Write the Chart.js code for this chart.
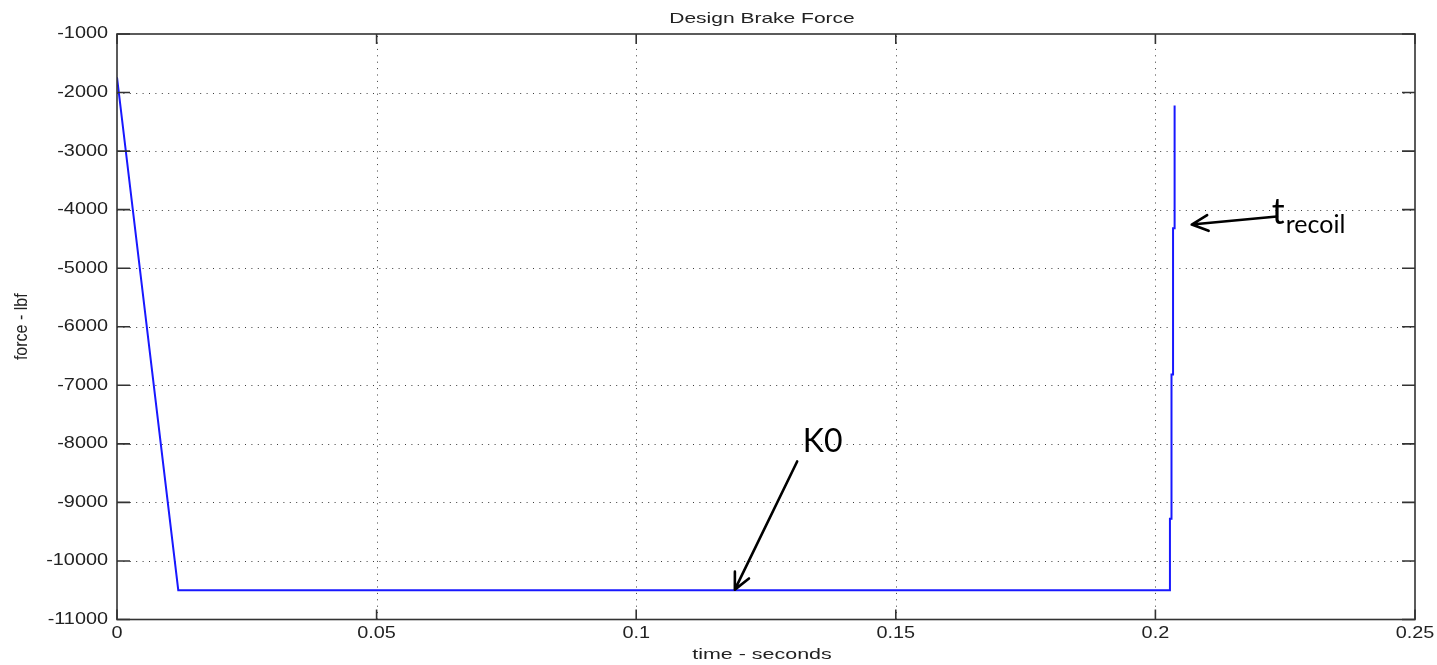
<!DOCTYPE html>
<html>
<head>
<meta charset="utf-8">
<title>Design Brake Force</title>
<script src="https://cdn.jsdelivr.net/npm/chart.js@4.4.0/dist/chart.umd.min.js"></script>
<style>
  html, body { margin: 0; padding: 0; background: #ffffff; }
  #wrap { width: 1437px; height: 665px; position: relative; }
</style>
</head>
<body>
<div id="wrap"><canvas id="brakeChart"></canvas></div>
<script>
// Brake force history (time in seconds, force in lbf)
const timeSeconds = [0, 0.0118, 0.2028, 0.2028, 0.2031, 0.2031, 0.2034, 0.2034, 0.2037, 0.2037];
const forceLbf    = [-1740, -10500, -10500, -9280, -9280, -6815, -6815, -4317, -4317, -2221];

// Axis tick labels (x left to right, y bottom to top)
const xTickLabels = ['0', '0.05', '0.1', '0.15', '0.2', '0.25'];
const yTickLabels = ['-11000', '-10000', '-9000', '-8000', '-7000', '-6000',
                     '-5000', '-4000', '-3000', '-2000', '-1000'];

const chartTitle = 'Design Brake Force';
const xAxisTitle = 'time - seconds';
const yAxisTitle = 'force - lbf';

// Callout arrows, in data units [time, force]
const calloutK0     = { text: 'K0', tail: [0.1310, -8301], tip: [0.1190, -10490], textAt: [0.1321, -8144] };
const calloutRecoil = { text: 't', sub: 'recoil', tail: [0.2234, -4117], tip: [0.2070, -4254],
                        textAt: [0.2224, -4237], subAt: [0.2251, -4407] };

const INK = '#222222';
const FRAME = '#333333';

// Text drawn with a horizontal stretch, like the bitmap fonts of the original plot
function stretchedText(ctx, text, x, y, opts) {
  ctx.save();
  ctx.font = opts.font;
  ctx.fillStyle = opts.color || INK;
  ctx.textAlign = opts.align || 'left';
  ctx.textBaseline = opts.baseline || 'alphabetic';
  ctx.translate(x, y);
  if (opts.rotate) ctx.rotate(opts.rotate);
  ctx.scale(opts.sx || 1, opts.sy || 1);
  ctx.fillText(text, 0, 0);
  ctx.restore();
}

function arrow(ctx, x1, y1, x2, y2) {
  const ang = Math.atan2(y2 - y1, x2 - x1);
  const head = 18, spread = 0.45;
  ctx.save();
  ctx.strokeStyle = '#000000';
  ctx.lineWidth = 2.6;
  ctx.lineCap = 'round';
  ctx.lineJoin = 'round';
  ctx.beginPath();
  ctx.moveTo(x1, y1);
  ctx.lineTo(x2, y2);
  ctx.moveTo(x2 - head * Math.cos(ang - spread), y2 - head * Math.sin(ang - spread));
  ctx.lineTo(x2, y2);
  ctx.lineTo(x2 - head * Math.cos(ang + spread), y2 - head * Math.sin(ang + spread));
  ctx.stroke();
  ctx.restore();
}

// Dotted grid, drawn beneath the data line
const matlabGrid = {
  id: 'matlabGrid',
  beforeDatasetsDraw(chart) {
    const { ctx, chartArea: a, scales: { x, y } } = chart;
    ctx.save();
    ctx.strokeStyle = '#3c3c3c';
    ctx.lineWidth = 1;
    ctx.setLineDash([1, 5.4]);
    x.ticks.forEach(t => {
      const px = Math.round(x.getPixelForValue(t.value)) + 0.5;
      if (px <= a.left + 2 || px >= a.right - 2) return;
      ctx.beginPath(); ctx.moveTo(px, a.bottom); ctx.lineTo(px, a.top); ctx.stroke();
    });
    y.ticks.forEach(t => {
      const py = Math.round(y.getPixelForValue(t.value)) + 0.5;
      if (py <= a.top + 2 || py >= a.bottom - 2) return;
      ctx.beginPath(); ctx.moveTo(a.left, py); ctx.lineTo(a.right, py); ctx.stroke();
    });
    ctx.restore();
  },
  afterDatasetsDraw(chart) {
    const { ctx, chartArea: a, scales: { x, y } } = chart;
    ctx.save();
    ctx.strokeStyle = FRAME;
    ctx.lineWidth = 1.6;
    ctx.strokeRect(a.left, a.top, a.right - a.left, a.bottom - a.top);
    // inward tick marks on all four sides
    ctx.beginPath();
    y.ticks.forEach(t => {
      const py = y.getPixelForValue(t.value);
      ctx.moveTo(a.left, py); ctx.lineTo(a.left + 13, py);
      ctx.moveTo(a.right, py); ctx.lineTo(a.right - 13, py);
    });
    x.ticks.forEach(t => {
      const px = x.getPixelForValue(t.value);
      ctx.moveTo(px, a.bottom); ctx.lineTo(px, a.bottom - 10);
      ctx.moveTo(px, a.top); ctx.lineTo(px, a.top + 10);
    });
    ctx.stroke();
    ctx.restore();
  },
  afterDraw(chart) {
    const { ctx, chartArea: a, scales: { x, y } } = chart;
    const tickFont = '16px "Liberation Sans", Arial, sans-serif';
    y.ticks.forEach((t, i) => {
      stretchedText(ctx, yTickLabels[i], a.left - 9, y.getPixelForValue(t.value),
        { font: tickFont, align: 'right', baseline: 'middle', sx: 1.24 });
    });
    x.ticks.forEach((t, i) => {
      stretchedText(ctx, xTickLabels[i], x.getPixelForValue(t.value), a.bottom + 14.5,
        { font: tickFont, align: 'center', baseline: 'middle', sx: 1.24 });
    });
    const cx = (a.left + a.right) / 2 - 4;
    stretchedText(ctx, chartTitle, cx, 23,
      { font: '15px "Liberation Sans", Arial, sans-serif', align: 'center', sx: 1.4 });
    stretchedText(ctx, xAxisTitle, cx, 659,
      { font: '15px "Liberation Sans", Arial, sans-serif', align: 'center', sx: 1.43 });
    stretchedText(ctx, yAxisTitle, 26.5, (a.top + a.bottom) / 2,
      { font: '16px "Liberation Sans", Arial, sans-serif', align: 'center', rotate: -Math.PI / 2, sy: 1.2 });

    // callouts
    const P = p => [x.getPixelForValue(p[0]), y.getPixelForValue(p[1])];
    let t1 = P(calloutK0.tail), t2 = P(calloutK0.tip);
    arrow(ctx, t1[0], t1[1], t2[0], t2[1]);
    let tp = P(calloutK0.textAt);
    stretchedText(ctx, calloutK0.text, tp[0], tp[1],
      { font: '32px Lato, "Open Sans", sans-serif', color: '#000000' });

    t1 = P(calloutRecoil.tail); t2 = P(calloutRecoil.tip);
    arrow(ctx, t1[0], t1[1], t2[0], t2[1]);
    tp = P(calloutRecoil.textAt);
    stretchedText(ctx, calloutRecoil.text, tp[0], tp[1],
      { font: '36px Lato, "Open Sans", sans-serif', color: '#000000' });
    tp = P(calloutRecoil.subAt);
    stretchedText(ctx, calloutRecoil.sub, tp[0], tp[1],
      { font: '25px Lato, "Open Sans", sans-serif', color: '#000000' });
  }
};

new Chart(document.getElementById('brakeChart'), {
  type: 'line',
  data: {
    datasets: [{
      label: 'Design Brake Force',
      data: timeSeconds.map((t, i) => ({ x: t, y: forceLbf[i] })),
      borderColor: 'rgb(24, 24, 255)',
      borderWidth: 2,
      pointRadius: 0,
      tension: 0,
      fill: false
    }]
  },
  options: {
    responsive: true,
    maintainAspectRatio: false,
    animation: false,
    layout: { padding: { top: 34, right: 22, left: 0, bottom: 0 } },
    plugins: { legend: { display: false }, tooltip: { enabled: false }, title: { display: false } },
    scales: {
      x: {
        type: 'linear', min: 0, max: 0.25,
        ticks: { display: false, stepSize: 0.05 },
        grid: { display: false, drawTicks: false },
        border: { display: false },
        afterFit(s) { s.height = 45.5; }
      },
      y: {
        type: 'linear', min: -11000, max: -1000,
        ticks: { display: false, stepSize: 1000 },
        grid: { display: false, drawTicks: false },
        border: { display: false },
        afterFit(s) { s.width = 117; }
      }
    }
  },
  plugins: [matlabGrid]
});
</script>
</body>
</html>
